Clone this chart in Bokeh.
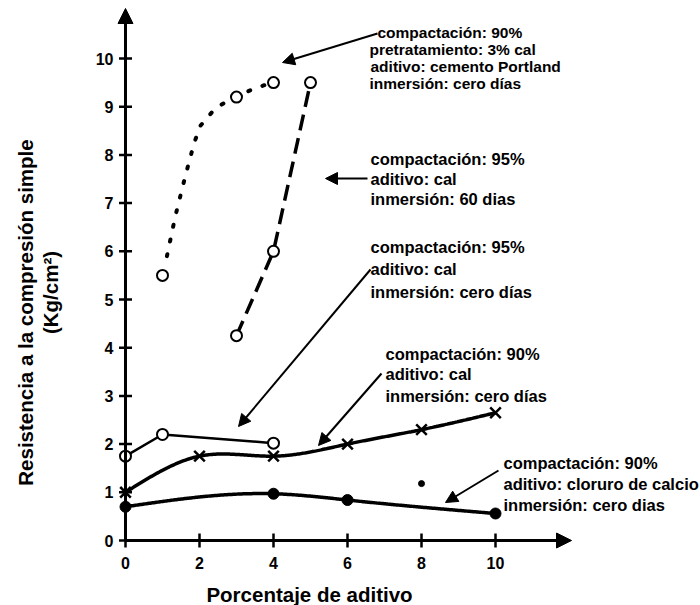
import numpy as np
from bokeh.plotting import figure
from bokeh.models import Label, Arrow, NormalHead, Range1d
from bokeh.core.properties import value
from bokeh.embed import file_html
from bokeh.resources import INLINE

# ---------------- data ----------------
cem_x = [1, 3, 4]
cem_y = [5.5, 9.2, 9.5]
cem_trend_x = [1.12, 1.35, 1.62, 1.86, 2.03, 2.43, 2.95, 3.4, 3.95]
cem_trend_y = [5.9, 6.74, 7.57, 8.26, 8.61, 8.97, 9.2, 9.35, 9.5]

cal60_x = [3, 4, 5]
cal60_y = [4.25, 6.0, 9.5]

cal95_x = [0, 1, 4]
cal95_y = [1.75, 2.2, 2.02]

cal90_x = [0, 2, 4, 6, 8, 10]
cal90_y = [1.0, 1.75, 1.75, 2.0, 2.3, 2.65]

clo_x = [0, 4, 6, 10]
clo_y = [0.7, 0.97, 0.84, 0.56]
clo_out_x = [8]
clo_out_y = [1.18]

x_ticks = [0, 2, 4, 6, 8, 10]
x_tick_labels = ["0", "2", "4", "6", "8", "10"]
y_ticks = list(range(0, 11))
y_tick_labels = [str(v) for v in y_ticks]

x_title = "Porcentaje de aditivo"
y_title_1 = "Resistencia a la compresión simple"
y_title_2 = "(Kg/cm²)"

notes = [
    ["compactación: 90%", "pretratamiento: 3% cal", "aditivo: cemento Portland", "inmersión: cero días"],
    ["compactación: 95%", "aditivo: cal", "inmersión: 60 dias"],
    ["compactación: 95%", "aditivo: cal", "inmersión: cero días"],
    ["compactación: 90%", "aditivo: cal", "inmersión: cero días"],
    ["compactación: 90%", "aditivo: cloruro de calcio", "inmersión: cero dias"],
]

# ---------------- layout helpers (page pixel -> data) ----------------
PX0, PY0 = 125.0, 540.0
SX, SY = 37.0, 48.2
W, H = 700, 605


def dx(px):
    return (px - PX0) / SX


def dy(py):
    return (PY0 - py) / SY


def smooth(xs, ys, num=300):
    x = np.asarray(xs, float)
    y = np.asarray(ys, float)
    n = len(x)
    h = np.diff(x)
    A = np.zeros((n, n))
    b = np.zeros(n)
    A[0, 0] = 1
    A[-1, -1] = 1
    for i in range(1, n - 1):
        A[i, i - 1] = h[i - 1]
        A[i, i] = 2 * (h[i - 1] + h[i])
        A[i, i + 1] = h[i]
        b[i] = 6 * ((y[i + 1] - y[i]) / h[i] - (y[i] - y[i - 1]) / h[i - 1])
    M = np.linalg.solve(A, b)
    xx = np.linspace(x[0], x[-1], num)
    idx = np.clip(np.searchsorted(x, xx) - 1, 0, n - 2)
    t0 = x[idx]
    t1 = x[idx + 1]
    hh = t1 - t0
    a = (t1 - xx) / hh
    bb = (xx - t0) / hh
    yy = a * y[idx] + bb * y[idx + 1] + ((a ** 3 - a) * M[idx] + (bb ** 3 - bb) * M[idx + 1]) * hh ** 2 / 6
    return xx, yy


FONT = "Liberation Sans"

p = figure(width=W, height=H, output_backend="svg", toolbar_location=None,
           x_axis_type=None, y_axis_type=None,
           x_range=Range1d(dx(0), dx(W)), y_range=Range1d(dy(H), dy(0)),
           min_border=0)
p.outline_line_color = None
p.grid.visible = False
p.background_fill_color = "white"
p.border_fill_color = "white"

# axis lines with arrow heads
p.add_layout(Arrow(x_start=0, y_start=0, x_end=0, y_end=dy(8), line_width=3, line_color="black",
                   end=NormalHead(size=15, fill_color="black", line_color="black")))
p.add_layout(Arrow(x_start=0, y_start=0, x_end=dx(571), y_end=0, line_width=3, line_color="black",
                   end=NormalHead(size=15, fill_color="black", line_color="black")))

# ticks (crossing the axes) and tick labels
tx = 6.5 / SX
ty = 7.0 / SY
p.segment(x0=x_ticks, y0=[-ty] * len(x_ticks), x1=x_ticks, y1=[ty] * len(x_ticks),
          line_width=2.5, line_color="black")
p.segment(x0=[-tx] * len(y_ticks), y0=y_ticks, x1=[tx] * len(y_ticks), y1=y_ticks,
          line_width=2.5, line_color="black")
p.text(x=x_ticks, y=[dy(562)] * len(x_ticks), text=x_tick_labels, text_font=value(FONT),
       text_font_size="16px", text_font_style="bold", text_align="center", text_baseline="middle",
       text_color="black")
p.text(x=[dx(113)] * len(y_ticks), y=y_ticks, text=y_tick_labels, text_font=value(FONT),
       text_font_size="16px", text_font_style="bold", text_align="right", text_baseline="middle",
       text_color="black")

# series lines
p.line(cem_trend_x, cem_trend_y, line_width=4, line_color="black", line_dash="2 13", line_cap="round")
p.line(cal60_x, cal60_y, line_width=3.5, line_color="black", line_dash="16 8")
p.line(cal95_x, cal95_y, line_width=2.5, line_color="black")
sx, sy = smooth(cal90_x, cal90_y)
p.line(sx, sy, line_width=3.5, line_color="black")
sx, sy = smooth(clo_x, clo_y)
p.line(sx, sy, line_width=3.5, line_color="black")

# markers
for xs, ys in ((cem_x, cem_y), (cal60_x, cal60_y), (cal95_x, cal95_y)):
    p.scatter(xs, ys, marker="circle", size=11, fill_color="white", line_color="black", line_width=2)
p.scatter(cal90_x, cal90_y, marker="x", size=15, line_color="black", line_width=2.5)
p.scatter(clo_x, clo_y, marker="circle", size=11, fill_color="black", line_color="black")
p.scatter(clo_out_x, clo_out_y, marker="circle", size=6, fill_color="black", line_color="black")

# annotation texts
note_pos = [
    ([377, 369, 370, 369], [32, 49, 66, 83], "15.5px"),
    ([370, 370, 370], [158, 178, 198], "16.5px"),
    ([370, 370, 370], [246, 268, 291], "16.5px"),
    ([385, 385, 385], [353, 373, 395], "16.5px"),
    ([503, 503, 503], [462, 483, 504], "16.5px"),
]
for lines, (xs, ys, fs) in zip(notes, note_pos):
    for t, px, py in zip(lines, xs, ys):
        p.add_layout(Label(x=dx(px), y=dy(py), text=t, text_font=FONT, text_font_size=fs,
                           text_font_style="bold", text_baseline="middle", text_align="left",
                           text_color="black"))

arrows = [
    (377, 33, 282, 62),
    (367, 178, 325, 178),
    (370, 269, 238, 426),
    (381, 373, 318, 445),
    (498, 470, 445, 502),
]
for x0, y0, x1, y1 in arrows:
    p.add_layout(Arrow(x_start=dx(x0), y_start=dy(y0), x_end=dx(x1), y_end=dy(y1),
                       line_width=2, line_color="black",
                       end=NormalHead(size=12, fill_color="black", line_color="black")))

# axis titles
p.add_layout(Label(x=dx(309), y=dy(594), text=x_title, text_font=FONT, text_font_size="20.5px",
                   text_font_style="bold", text_align="center", text_baseline="middle",
                   text_color="black"))
p.add_layout(Label(x=dx(25), y=dy(312), text=y_title_1, text_font=FONT, text_font_size="20.5px",
                   text_font_style="bold", text_align="center", text_baseline="middle", angle=np.pi / 2,
                   text_color="black"))
p.add_layout(Label(x=dx(50), y=dy(292), text=y_title_2, text_font=FONT, text_font_size="20.5px",
                   text_font_style="bold", text_align="center", text_baseline="middle", angle=np.pi / 2,
                   text_color="black"))

open("out.html", "w").write(file_html(p, INLINE))
